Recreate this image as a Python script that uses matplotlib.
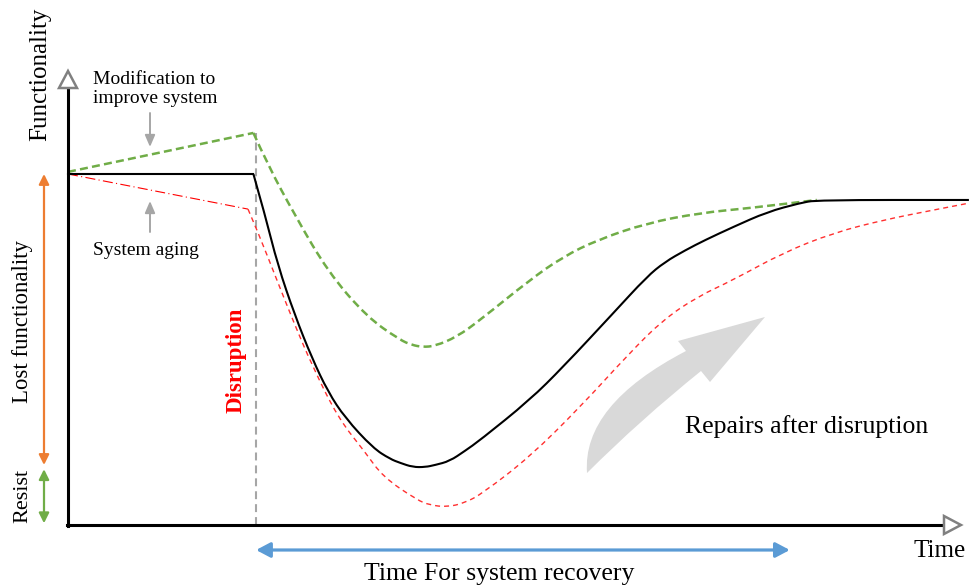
import numpy as np
import matplotlib
matplotlib.use("Agg")
import matplotlib.pyplot as plt
from matplotlib.patches import Polygon, PathPatch
from matplotlib.path import Path

plt.rcParams['font.family'] = ['Liberation Serif', 'DejaVu Serif']

# functionality (%) against time
time_black = [0.0, 20.6, 21.9, 23.3, 25.2, 27.1, 28.9, 30.8, 33.9, 35.8, 36.9, 38.3,
              39.7, 40.8, 42.4, 44.1, 45.8, 51.3, 55.0, 60.6, 64.3, 66.3, 68.6, 70.8,
              73.9, 77.7, 81.3, 83.2, 100.1]
func_black = [100.0, 100.0, 88.3, 74.1, 59.8, 47.6, 37.9, 30.5, 21.9, 18.8, 17.7, 16.5,
              16.5, 17.1, 18.2, 21.1, 24.2, 35.6, 45.0, 60.4, 70.7, 74.9, 78.3, 81.2,
              84.9, 89.2, 91.7, 92.6, 92.6]

time_green = [0.0, 20.6, 22.2, 25.2, 28.9, 33.2, 36.9, 38.2, 39.4, 40.8, 43.2, 45.8,
              51.3, 55.0, 58.8, 64.3, 70.2, 75.8, 83.2]
func_green = [100.6, 111.7, 102.6, 88.3, 72.1, 59.3, 52.7, 51.3, 50.7, 51.0, 53.6, 58.4,
              69.8, 76.4, 81.2, 86.0, 88.9, 90.3, 92.6]

time_aging = [0.0, 20.0]
func_aging = [100.0, 90.0]

time_red = [20.0, 21.1, 23.3, 25.2, 27.1, 30.0, 33.0, 35.0, 38.8, 40.2, 42.1, 44.1,
            46.1, 51.3, 56.9, 62.4, 66.1, 69.9, 73.9, 79.4, 85.0, 90.6, 96.1, 100.1]
func_red = [90.0, 83.5, 69.2, 57.0, 45.6, 30.5, 20.8, 13.7, 7.1, 5.7, 5.1, 6.3,
            9.1, 19.4, 33.6, 49.0, 58.4, 65.0, 69.8, 77.5, 83.2, 86.9, 89.7, 91.7]

t_disruption = 20.9
t_recovery_end = 80.2

# pixel origin of the axes and pixel size of one unit
X0, Y0, SX, SY = 68, 525, 9.0, 3.51


def px(x, y):
    return ((x - X0) / SX, (Y0 - y) / SY)


def smooth(t, f):
    # quadratic curve through the midpoints, corners of the polyline rounded off
    pts = list(zip(t, f))
    verts, codes = [pts[0]], [Path.MOVETO]
    for i in range(1, len(pts) - 1):
        mid = ((pts[i][0] + pts[i + 1][0]) / 2, (pts[i][1] + pts[i + 1][1]) / 2)
        verts += [pts[i], mid]
        codes += [Path.CURVE3, Path.CURVE3]
    verts.append(pts[-1])
    codes.append(Path.LINETO)
    return Path(verts, codes)


fig = plt.figure(figsize=(9.69, 5.87), dpi=100)
ax = fig.add_axes([0, 0, 1, 1])
ax.set_xlim(-X0 / SX, (969 - X0) / SX)
ax.set_ylim((Y0 - 587) / SY, Y0 / SY)
ax.axis('off')

# axes with open arrow heads
ax.plot(*zip(px(68, 526), px(68, 88)), color='black', lw=2.2, zorder=4)
ax.plot(*zip(px(67, 525), px(944, 525)), color='black', lw=2.2, zorder=4)
ax.add_patch(Polygon([px(68, 71), px(59, 88), px(77, 88)], closed=True,
                     fc='white', ec='#808080', lw=1.8, zorder=5))
ax.add_patch(Polygon([px(961, 525), px(944, 516), px(944, 534)], closed=True,
                     fc='white', ec='#808080', lw=1.8, zorder=5))

# disruption line
ax.plot([t_disruption, t_disruption], [0, max(func_green)], color='#a6a6a6',
        lw=1.5, linestyle=(0, (3.8, 2.4)), zorder=1)

# curves: straight part before the disruption, smooth part after it
ax.plot(time_green[:2], func_green[:2], color='#70ad47', lw=1.8,
        linestyle=(0, (3.2, 1.7)), zorder=2)
ax.add_patch(PathPatch(smooth(time_green[1:], func_green[1:]), fill=False, ec='#70ad47',
                       lw=1.8, linestyle=(0, (3.2, 1.7)), zorder=2))
ax.plot(time_aging, func_aging, color='#ff0000', lw=0.8, linestyle=(0, (9, 3, 1, 3)), zorder=2)
ax.add_patch(PathPatch(smooth(time_red, func_red), fill=False, ec='#ff3030',
                       lw=1.0, linestyle=(0, (3.6, 2.9)), zorder=2))
ax.plot(time_black[:2], func_black[:2], color='black', lw=1.5, zorder=3)
ax.add_patch(PathPatch(smooth(time_black[1:], func_black[1:]), fill=False, ec='black',
                       lw=1.5, zorder=3))

# left side brackets
base = func_black[0]
low = min(func_black)
t_side = px(44, 0)[0]
ax.annotate('', xy=(t_side, base), xytext=(t_side, low + 0.6),
            arrowprops=dict(arrowstyle='<|-|>,head_length=0.6,head_width=0.3',
                            color='#ed7d31', lw=1.6, shrinkA=0, shrinkB=0, mutation_scale=10))
ax.annotate('', xy=(t_side, low - 0.6), xytext=(t_side, 0.5),
            arrowprops=dict(arrowstyle='<|-|>,head_length=0.6,head_width=0.3',
                            color='#70ad47', lw=1.6, shrinkA=0, shrinkB=0, mutation_scale=10))

# recovery time arrow
f_blue = px(0, 550)[1]
ax.annotate('', xy=(t_disruption, f_blue), xytext=(t_recovery_end, f_blue),
            arrowprops=dict(arrowstyle='<|-|>,head_length=0.85,head_width=0.45',
                            color='#5b9bd5', lw=2.3, shrinkA=0, shrinkB=0, mutation_scale=10))

# small pointers
ax.annotate('', xy=px(150, 147), xytext=px(150, 113),
            arrowprops=dict(arrowstyle='-|>,head_length=0.7,head_width=0.3',
                            color='#a6a6a6', lw=1.4, shrinkA=0, shrinkB=0, mutation_scale=10))
ax.annotate('', xy=px(150, 201), xytext=px(150, 232),
            arrowprops=dict(arrowstyle='-|>,head_length=0.7,head_width=0.3',
                            color='#a6a6a6', lw=1.4, shrinkA=0, shrinkB=0, mutation_scale=10))

# big curved "repairs" arrow
verts = [px(587, 473), px(582, 405), px(686, 351),
         px(678, 341), px(765, 317), px(710, 382), px(701, 371),
         px(640, 420), px(587, 473), px(587, 473)]
codes = [Path.MOVETO, Path.CURVE3, Path.CURVE3,
         Path.LINETO, Path.LINETO, Path.LINETO, Path.LINETO,
         Path.CURVE3, Path.CURVE3, Path.CLOSEPOLY]
ax.add_patch(PathPatch(Path(verts, codes), fc='#d9d9d9', ec='none', zorder=0))

# labels
ax.text(*px(40, 74), 'Functionality', rotation=90, fontsize=18, ha='center', va='center')
ax.text(*px(23, 322), 'Lost functionality', rotation=90, fontsize=16.4, ha='center', va='center')
ax.text(*px(23, 496), 'Resist', rotation=90, fontsize=16, ha='center', va='center')
ax.text(*px(93, 89), 'Modification to\nimprove system', fontsize=14, ha='left',
        va='center', linespacing=1.1)
ax.text(*px(93, 250), 'System aging', fontsize=14, ha='left', va='center')
ax.text(*px(236, 360), 'Disruption', rotation=90, fontsize=16.5, fontweight='bold',
        color='#ff0000', ha='center', va='center')
ax.text(*px(685, 427), 'Repairs after disruption', fontsize=18.5, ha='left', va='center')
ax.text(*px(914, 551), 'Time', fontsize=18, ha='left', va='center')
ax.text(*px(499, 574), 'Time For system recovery', fontsize=18.5, ha='center', va='center')

fig.savefig('out.png', dpi=100)
